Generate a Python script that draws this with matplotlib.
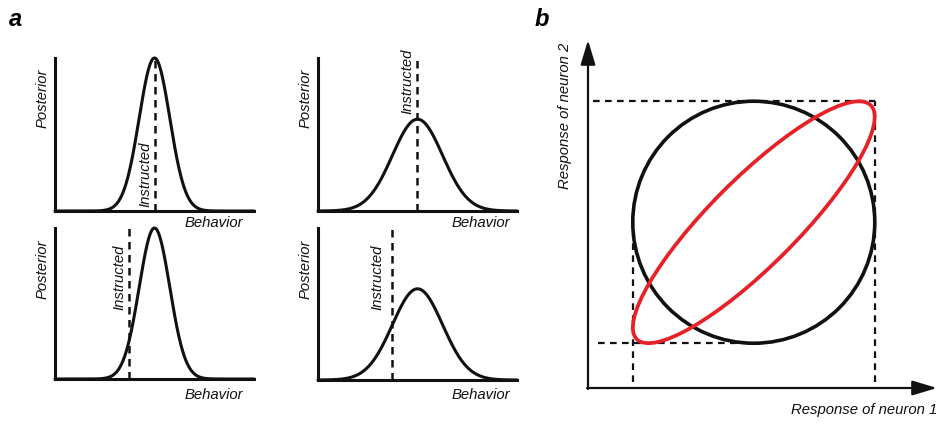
import numpy as np
import matplotlib
matplotlib.use("Agg")
import matplotlib.pyplot as plt
from matplotlib.patches import Ellipse, Circle

plt.rcParams['font.family'] = ['Liberation Sans', 'DejaVu Sans']

# ---------------- data ----------------
# panel a: posterior curves (order: top-left, top-right, bottom-left, bottom-right)
post_means = [5.0, 5.0, 5.0, 5.0]
post_sigmas = [0.77, 1.26, 0.77, 1.26]
post_peaks = [1.0, 0.60, 1.0, 0.60]
instructed = [5.0, 5.0, 3.72, 3.72]

# panel b: tuning circle and correlated ellipse
circle_center = (1.37, 1.37)
circle_radius = 1.0
ellipse_major = 1.367   # semi-axis
ellipse_minor = 0.36    # semi-axis
ellipse_angle = 45.0

W, H = 944, 424
fig = plt.figure(figsize=(W / 100, H / 100), dpi=100)

def px_rect(left, top, right, bottom):
    return [left / W, 1 - bottom / H, (right - left) / W, (bottom - top) / H]

FS = 10.7
LW = 2.2
black = '#111111'
red = '#e62228'

rects = [px_rect(55, 58, 254, 211), px_rect(318, 58, 517, 211),
         px_rect(55, 228, 254, 379), px_rect(318, 228, 517, 380)]
instr_pos = [(4.52, 0.24), (4.5, 0.85), (3.22, 0.675), (2.99, 0.678)]
post_label_y = [0.74, 0.74, 0.73, 0.73]
beh_label = [(0.945, -0.08), (0.965, -0.08), (0.945, -0.105), (0.965, -0.10)]

x = np.linspace(0, 10, 600)
for i in range(4):
    ax = fig.add_axes(rects[i])
    y = post_peaks[i] * np.exp(-0.5 * ((x - post_means[i]) / post_sigmas[i]) ** 2)
    ax.plot(x, y, color=black, lw=LW, clip_on=False, solid_capstyle='round', zorder=3)
    ax.plot([instructed[i], instructed[i]], [0, 1.0], color=black, lw=1.8,
            ls=(0, (3.0, 2.2)), clip_on=False, zorder=2)
    ax.set_xlim(0, 10)
    ax.set_ylim(0, 1)
    for s in ['top', 'right']:
        ax.spines[s].set_visible(False)
    for s in ['left', 'bottom']:
        ax.spines[s].set_linewidth(LW)
        ax.spines[s].set_color(black)
    ax.set_xticks([])
    ax.set_yticks([])
    ax.patch.set_alpha(0)
    ax.text(-0.065, post_label_y[i], 'Posterior', transform=ax.transAxes, rotation=90,
            ha='center', va='center', fontsize=FS, style='italic', color=black)
    ax.text(beh_label[i][0], beh_label[i][1], 'Behavior', transform=ax.transAxes,
            ha='right', va='center', fontsize=FS, style='italic', color=black)
    ax.text(instr_pos[i][0], instr_pos[i][1], 'Instructed', rotation=90,
            ha='center', va='center', fontsize=FS, style='italic', color=black)

fig.text(9 / W, 1 - 26 / H, 'a', fontsize=17, fontweight='bold', style='italic',
         ha='left', va='baseline')
fig.text(535 / W, 1 - 26 / H, 'b', fontsize=17, fontweight='bold', style='italic',
         ha='left', va='baseline')

# ---------------- panel b ----------------
S = 121.0  # px per data unit
ox, oy = 588, 388
L, T, R, B = 545, 30, 944, 424
axb = fig.add_axes(px_rect(L, T, R, B))
axb.set_xlim((L - ox) / S, (R - ox) / S)
axb.set_ylim((oy - B) / S, (oy - T) / S)
axb.axis('off')

cx, cy = circle_center
r = circle_radius
dash = (0, (3.0, 2.4))
dlw = 1.6
# dashed projections
axb.plot([0.04, cx + r], [cy + r, cy + r], color=black, lw=dlw, ls=dash)
axb.plot([cx + r, cx + r], [0.05, cy + r], color=black, lw=dlw, ls=dash)
axb.plot([cx - r, cx - r], [0.05, cy], color=black, lw=dlw, ls=dash)
axb.plot([0.08, cx], [cy - r, cy - r], color=black, lw=dlw, ls=dash)

axb.add_patch(Circle((cx, cy), r, fill=False, ec=black, lw=2.6, zorder=3))
axb.add_patch(Ellipse((cx, cy), 2 * ellipse_major, 2 * ellipse_minor, angle=ellipse_angle,
                      fill=False, ec=red, lw=2.7, zorder=4))

xmax = (937 - ox) / S
ymax = (oy - 40) / S
axb.annotate('', xy=(xmax, 0), xytext=(-0.008, 0),
             arrowprops=dict(arrowstyle='-|>,head_length=1.5,head_width=0.45',
                             color=black, lw=1.6, shrinkA=0, shrinkB=0))
axb.annotate('', xy=(0, ymax), xytext=(0, -0.008),
             arrowprops=dict(arrowstyle='-|>,head_length=1.5,head_width=0.45',
                             color=black, lw=1.6, shrinkA=0, shrinkB=0))

fig.text(937 / W, 1 - 410 / H, 'Response of neuron 1', ha='right', va='center',
         fontsize=FS, style='italic', color=black)
fig.text(565.5 / W, 1 - 116 / H, 'Response of neuron 2', ha='center', va='center',
         rotation=90, fontsize=FS, style='italic', color=black)

fig.savefig('out.png', dpi=100)
